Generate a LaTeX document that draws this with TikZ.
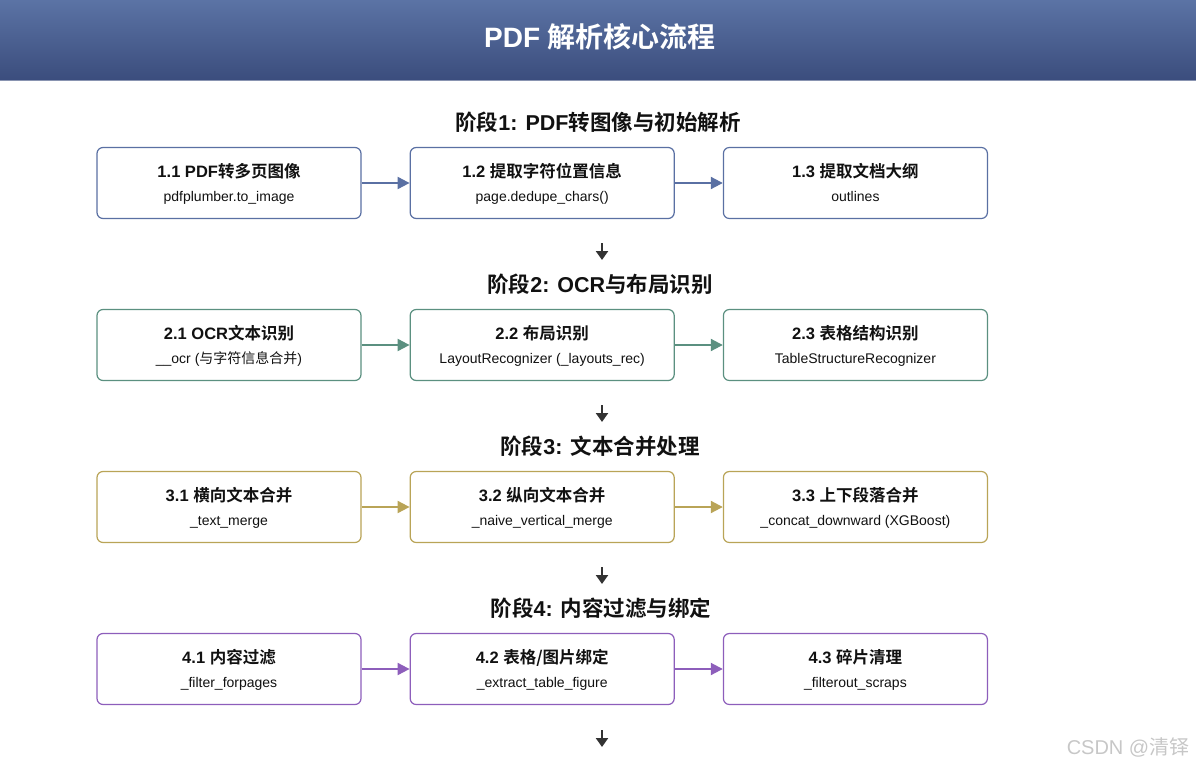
\documentclass[tikz,border=0pt]{standalone}
\usepackage{fontspec}
\setmainfont{Liberation Sans}
\newfontfamily\cjk{Noto Sans CJK SC}[BoldFont={Noto Sans CJK SC Bold}]
\usetikzlibrary{arrows.meta,positioning}

\definecolor{headtop}{HTML}{5B73A5}
\definecolor{headbot}{HTML}{3B4D7D}
\definecolor{blueline}{HTML}{5A70A3}
\definecolor{greenline}{HTML}{5B9080}
\definecolor{goldline}{HTML}{B9A457}
\definecolor{purpleline}{HTML}{8D5EBB}
\definecolor{darkarrow}{HTML}{333333}
\definecolor{inktext}{HTML}{111111}

\newcommand{\boxtext}[2]{{\bfseries\fontsize{16.5}{20}\selectfont\rule[-6pt]{0pt}{24pt}#1}\\[6pt]\strut #2}

\tikzset{
    stepbox/.style={draw, rounded corners=6pt, fill=white, line width=1.2pt,
        minimum width=264pt, minimum height=71pt, align=center, inner sep=0pt,
        text=inktext, font=\fontsize{14}{17}\selectfont},
    phase/.style={text=inktext, font=\bfseries\fontsize{21.5}{26}\selectfont},
    flow/.style={-{Triangle[length=12pt,width=12pt]}, line width=2pt},
    down/.style={darkarrow, -{Triangle[length=9pt,width=12pt]}, line width=2.6pt}
}

\begin{document}
\begin{tikzpicture}[x=1pt, y=-1pt]
    \useasboundingbox (0,0) rectangle (1196,768);

    % Header band
    \shade[top color=headtop, bottom color=headbot] (0,0) rectangle (1196,80);
    \draw[headbot!60, line width=1pt] (0,80) -- (1196,80);
    \node[text=white, font=\bfseries\fontsize{28}{34}\selectfont] (title) at (600,37)
        {PDF {\cjk 解析核心流程}};

    % Stage 1
    \node[phase] (p1) at (598,122) {{\cjk 阶段}1: PDF{\cjk 转图像与初始解析}};
    \node[stepbox, draw=blueline] (s11) at (229,183)
        {\boxtext{1.1 PDF{\cjk 转多页图像}}{pdfplumber.to\_image}};
    \node[stepbox, draw=blueline, right=48pt of s11] (s12)
        {\boxtext{1.2 {\cjk 提取字符位置信息}}{page.dedupe\_chars()}};
    \node[stepbox, draw=blueline, right=48pt of s12] (s13)
        {\boxtext{1.3 {\cjk 提取文档大纲}}{outlines}};
    \draw[flow, blueline] (s11) -- (s12);
    \draw[flow, blueline] (s12) -- (s13);

    \coordinate (d1a) at (602,243);
    \coordinate (d1b) at (602,260);
    \draw[down] (d1a) -- (d1b);

    % Stage 2
    \node[phase] (p2) at (600,284) {{\cjk 阶段}2: OCR{\cjk 与布局识别}};
    \node[stepbox, draw=greenline] (s21) at (229,345)
        {\boxtext{2.1 OCR{\cjk 文本识别}}{\_\_ocr ({\cjk 与字符信息合并})}};
    \node[stepbox, draw=greenline, right=48pt of s21] (s22)
        {\boxtext{2.2 {\cjk 布局识别}}{LayoutRecognizer (\_layouts\_rec)}};
    \node[stepbox, draw=greenline, right=48pt of s22] (s23)
        {\boxtext{2.3 {\cjk 表格结构识别}}{TableStructureRecognizer}};
    \draw[flow, greenline] (s21) -- (s22);
    \draw[flow, greenline] (s22) -- (s23);

    \coordinate (d2a) at (602,405);
    \coordinate (d2b) at (602,422);
    \draw[down] (d2a) -- (d2b);

    % Stage 3
    \node[phase] (p3) at (600,446) {{\cjk 阶段}3: {\cjk 文本合并处理}};
    \node[stepbox, draw=goldline] (s31) at (229,507)
        {\boxtext{3.1 {\cjk 横向文本合并}}{\_text\_merge}};
    \node[stepbox, draw=goldline, right=48pt of s31] (s32)
        {\boxtext{3.2 {\cjk 纵向文本合并}}{\_naive\_vertical\_merge}};
    \node[stepbox, draw=goldline, right=48pt of s32] (s33)
        {\boxtext{3.3 {\cjk 上下段落合并}}{\_concat\_downward (XGBoost)}};
    \draw[flow, goldline] (s31) -- (s32);
    \draw[flow, goldline] (s32) -- (s33);

    \coordinate (d3a) at (602,567);
    \coordinate (d3b) at (602,584);
    \draw[down] (d3a) -- (d3b);

    % Stage 4
    \node[phase] (p4) at (601,608) {{\cjk 阶段}4: {\cjk 内容过滤与绑定}};
    \node[stepbox, draw=purpleline] (s41) at (229,669)
        {\boxtext{4.1 {\cjk 内容过滤}}{\_filter\_forpages}};
    \node[stepbox, draw=purpleline, right=48pt of s41] (s42)
        {\boxtext{4.2 {\cjk 表格/图片绑定}}{\_extract\_table\_figure}};
    \node[stepbox, draw=purpleline, right=48pt of s42] (s43)
        {\boxtext{4.3 {\cjk 碎片清理}}{\_filterout\_scraps}};
    \draw[flow, purpleline] (s41) -- (s42);
    \draw[flow, purpleline] (s42) -- (s43);

    \coordinate (d4a) at (602,730);
    \coordinate (d4b) at (602,747);
    \draw[down] (d4a) -- (d4b);

    % Watermark
    \node[text=black!22, font=\fontsize{20}{24}\selectfont] (mark) at (1128,747)
        {CSDN @{\cjk 清铎}};
\end{tikzpicture}
\end{document}
